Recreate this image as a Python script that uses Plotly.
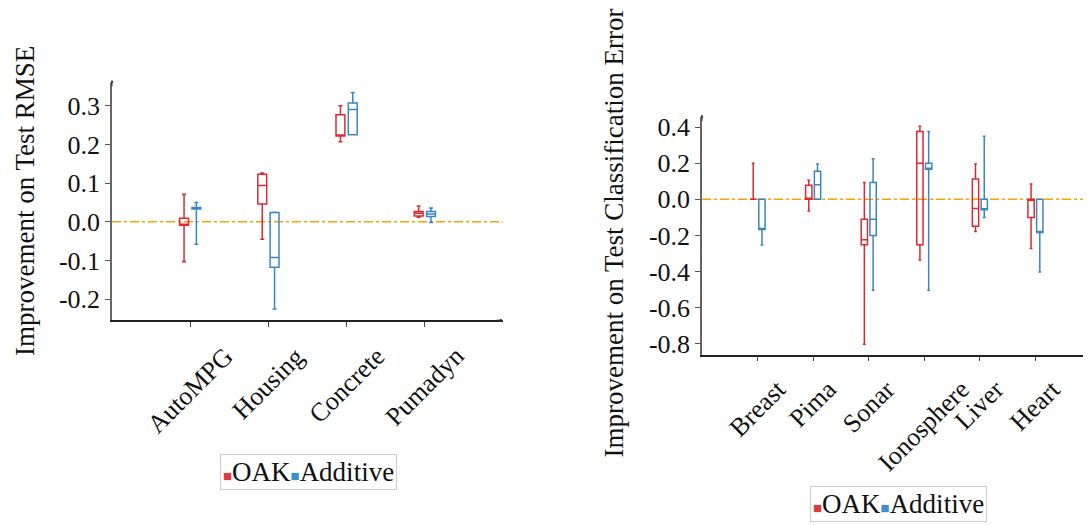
import plotly.graph_objects as go

# ---------------- data ----------------
reg_cats = ["AutoMPG", "Housing", "Concrete", "Pumadyn"]
reg_oak_lower = [-0.103, -0.045, 0.207, 0.012]
reg_oak_q1 = [-0.009, 0.046, 0.222, 0.015]
reg_oak_median = [-0.007, 0.094, 0.222, 0.022]
reg_oak_q3 = [0.009, 0.123, 0.277, 0.027]
reg_oak_upper = [0.071, 0.126, 0.300, 0.041]
reg_add_lower = [-0.058, -0.225, 0.225, -0.002]
reg_add_q1 = [0.033, -0.117, 0.225, 0.014]
reg_add_median = [0.035, -0.092, 0.290, 0.020]
reg_add_q3 = [0.037, 0.024, 0.307, 0.027]
reg_add_upper = [0.050, 0.025, 0.334, 0.036]
reg_tickvals = [0.3, 0.2, 0.1, 0.0, -0.1, -0.2]
reg_ticktext = ["0.3", "0.2", "0.1", "0.0", "-0.1", "-0.2"]

cls_cats = ["Breast", "Pima", "Sonar", "Ionosphere", "Liver", "Heart"]
cls_oak_lower = [0.0, -0.065, -0.802, -0.336, -0.178, -0.273]
cls_oak_q1 = [0.0, 0.0, -0.251, -0.251, -0.149, -0.100]
cls_oak_median = [0.0, 0.0, -0.224, 0.200, -0.051, 0.0]
cls_oak_q3 = [0.0, 0.078, -0.111, 0.376, 0.113, 0.0]
cls_oak_upper = [0.200, 0.105, 0.093, 0.404, 0.195, 0.085]
cls_add_lower = [-0.253, 0.0, -0.504, -0.504, -0.100, -0.402]
cls_add_q1 = [-0.167, 0.0, -0.200, 0.167, -0.058, -0.184]
cls_add_median = [-0.167, 0.080, -0.111, 0.170, -0.056, -0.184]
cls_add_q3 = [0.0, 0.156, 0.093, 0.200, 0.0, 0.0]
cls_add_upper = [0.0, 0.196, 0.224, 0.376, 0.349, 0.0]
cls_tickvals = [0.4, 0.2, 0.0, -0.2, -0.4, -0.6, -0.8]
cls_ticktext = ["0.4", "0.2", "0.0", "-0.2", "-0.4", "-0.6", "-0.8"]

series_names = ["OAK", "Additive"]
reg_title = "Improvement on Test RMSE"
cls_title = "Improvement on Test Classification Error"

# ---------------- style ----------------
RED = "#dc2a30"
BLUE = "#3a86c4"
LEG_RED = "#e2383f"
LEG_BLUE = "#3d8fcc"
FONT = "Liberation Serif"
OFF = 8
W, H = 1091 - OFF, 525 - OFF


def px(xp):
    return (xp - OFF) / W


def py(yp):
    return 1 - (yp - OFF) / H


fig = go.Figure()


def add_boxes(cats, stats, xa, ya, group):
    for name, color, (lo, q1, md, q3, up) in zip(series_names, [RED, BLUE], stats):
        fig.add_trace(go.Box(
            name=name, x=cats, q1=q1, median=md, q3=q3,
            lowerfence=lo, upperfence=up,
            line=dict(color=color, width=1.5),
            fillcolor="rgba(255,255,255,0)",
            whiskerwidth=0.45, boxpoints=False,
            alignmentgroup=group, offsetgroup=name,
            xaxis=xa, yaxis=ya, showlegend=False, hoverinfo="skip",
        ))


add_boxes(reg_cats, [
    (reg_oak_lower, reg_oak_q1, reg_oak_median, reg_oak_q3, reg_oak_upper),
    (reg_add_lower, reg_add_q1, reg_add_median, reg_add_q3, reg_add_upper),
], "x", "y", "reg")
add_boxes(cls_cats, [
    (cls_oak_lower, cls_oak_q1, cls_oak_median, cls_oak_q3, cls_oak_upper),
    (cls_add_lower, cls_add_q1, cls_add_median, cls_add_q3, cls_add_upper),
], "x2", "y2", "cls")

L_dom_x = [px(112), px(503)]
L_dom_y = [py(321), py(80)]
R_dom_x = [px(702), 1.0]
R_dom_y = [py(356), py(115)]

tick_font = dict(family=FONT, size=26, color="#111")
xcommon = dict(showgrid=False, zeroline=False, showline=True, ticks="outside",
               ticklen=5, tickwidth=1.2, showticklabels=False,
               linecolor="#222", linewidth=1.5, tickcolor="#444")
ycommon = dict(showgrid=False, zeroline=False, showline=True, ticks="outside",
               ticklen=5, tickwidth=1.2, tickfont=tick_font,
               linecolor="#666", linewidth=1.5, tickcolor="#555")

fig.update_layout(
    width=W, height=H,
    margin=dict(l=0, r=0, t=0, b=0),
    paper_bgcolor="white", plot_bgcolor="white",
    font=dict(family=FONT, color="#111"),
    boxmode="group", boxgap=0.685, boxgroupgap=0.28,
    xaxis=dict(domain=L_dom_x, anchor="y", type="category", range=[-1, 4], **xcommon),
    yaxis=dict(domain=L_dom_y, anchor="x", range=[-0.254, 0.359],
               tickvals=reg_tickvals, ticktext=reg_ticktext, **ycommon),
    xaxis2=dict(domain=R_dom_x, anchor="y2", type="category", range=[-1, 6], **xcommon),
    yaxis2=dict(domain=R_dom_y, anchor="x2", range=[-0.860, 0.454],
                tickvals=cls_tickvals, ticktext=cls_ticktext, **ycommon),
)

# y-axis titles
for t, cx, cy in [(reg_title, 25, 200), (cls_title, 614, 233)]:
    fig.add_annotation(x=px(cx), y=py(cy), xref="paper", yref="paper", text=t, showarrow=False,
                       textangle=-90, xanchor="center", yanchor="middle", borderpad=0,
                       font=dict(family=FONT, size=27, color="#111"))

# zero reference lines
for xr, yr in [("x domain", "y"), ("x2 domain", "y2")]:
    fig.add_shape(type="line", xref=xr, yref=yr, x0=0, x1=1, y0=0, y1=0,
                  line=dict(color="#ffa200", width=1.5, dash="dashdot"), layer="below")

# rotated category labels (centered under each tick)
for cats, xr, ybottom, shift in [(reg_cats, "x", L_dom_y[0], -19), (cls_cats, "x2", R_dom_y[0], -17)]:
    for c in cats:
        fig.add_annotation(x=c, xref=xr, y=ybottom, yref="paper", text=c, showarrow=False,
                           textangle=-45, xanchor="center", yanchor="top", yshift=shift,
                           font=dict(family=FONT, size=26, color="#111"))

# axis arrowheads
for xd, yd in [(L_dom_x, L_dom_y), (R_dom_x, R_dom_y)]:
    fig.add_annotation(x=xd[0], y=yd[1] + 3 / H, xref="paper", yref="paper", ax=0, ay=8, text="",
                       showarrow=True, arrowhead=2, arrowsize=0.6, arrowwidth=1, arrowcolor="#333")
    fig.add_annotation(x=min(xd[1], 0.999), y=yd[0], xref="paper", yref="paper", ax=-8, ay=0, text="",
                       showarrow=True, arrowhead=2, arrowsize=0.6, arrowwidth=1, arrowcolor="#333")

# legends
leg_text = (f"<span style='color:{LEG_RED};font-size:15px'>■</span>{series_names[0]}"
            f"<span style='color:{LEG_BLUE};font-size:15px'>■</span>{series_names[1]}")
for cx, cy in [(308, 475), (898, 508)]:
    fig.add_annotation(x=px(cx), y=py(cy), xref="paper", yref="paper", text=leg_text,
                       showarrow=False, xanchor="center", yanchor="middle",
                       font=dict(family=FONT, size=27, color="#111"),
                       bordercolor="#cccccc", borderwidth=1, borderpad=2, bgcolor="white")

fig.write_html("out.html")
